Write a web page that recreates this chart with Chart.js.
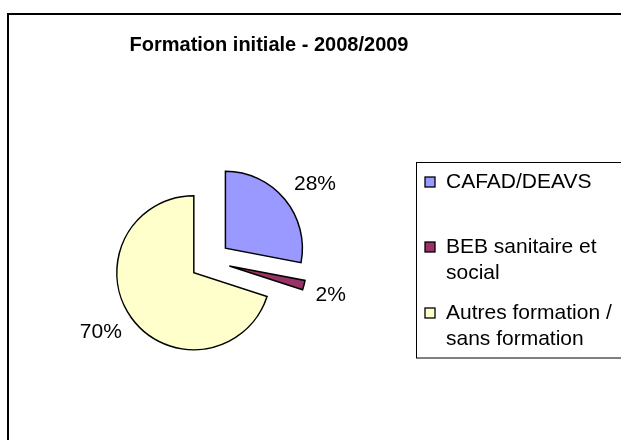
<!DOCTYPE html>
<html>
<head>
<meta charset="utf-8">
<title>Formation initiale - 2008/2009</title>
<script src="https://cdn.jsdelivr.net/npm/chart.js"></script>
<style>
  html, body { margin: 0; padding: 0; background: #fff; overflow: hidden; }
  #chart { display: block; }
</style>
</head>
<body>
<canvas id="chart" width="621" height="440"></canvas>
<script>
// data
const chartTitle = 'Formation initiale - 2008/2009';
const categories = ['CAFAD/DEAVS', 'BEB sanitaire et social', 'Autres formation / sans formation'];
const legendLines = [['CAFAD/DEAVS'], ['BEB sanitaire et', 'social'], ['Autres formation /', 'sans formation']];
const values = [28, 2, 70];
const colors = ['#9999FF', '#993366', '#FFFFCC'];

// layout
const FONT = '"Liberation Sans", Arial, sans-serif';
const EXPLODE = 20;
const LABEL_GAP = 12;
const LEGEND = { x: 416.5, y: 162.5, w: 300, h: 195.5, markX: 425, markSize: 10, textX: 446, lineH: 26, itemY: [182, 247, 313] };

const decor = {
  id: 'decor',
  beforeDraw(chart) {
    const ctx = chart.ctx;
    ctx.save();
    ctx.fillStyle = '#fff';
    ctx.fillRect(0, 0, chart.width, chart.height);
    ctx.strokeStyle = '#000';
    ctx.lineWidth = 2;
    ctx.strokeRect(8, 14, 700, 500);
    ctx.restore();
  },
  // draw slices pulled out from the centre
  beforeDatasetDraw(chart, args) {
    const ctx = chart.ctx;
    args.meta.data.forEach(arc => {
      const mid = (arc.startAngle + arc.endAngle) / 2;
      ctx.save();
      ctx.translate(Math.cos(mid) * EXPLODE, Math.sin(mid) * EXPLODE);
      arc.draw(ctx, chart.chartArea);
      ctx.restore();
    });
    return false;
  },
  afterDraw(chart) {
    const ctx = chart.ctx;
    ctx.save();
    ctx.fillStyle = '#000';

    // title
    ctx.font = 'bold 20px ' + FONT;
    ctx.textAlign = 'center';
    ctx.textBaseline = 'middle';
    ctx.fillText(chartTitle, 269, 45);

    // percentage labels
    const total = values.reduce((a, b) => a + b, 0);
    ctx.font = '21px ' + FONT;
    chart.getDatasetMeta(0).data.forEach((arc, i) => {
      const mid = (arc.startAngle + arc.endAngle) / 2;
      const dx = Math.cos(mid), dy = Math.sin(mid);
      const r = arc.outerRadius + EXPLODE + LABEL_GAP;
      const txt = Math.round(values[i] / total * 100) + '%';
      const w = ctx.measureText(txt).width;
      const px = arc.x + dx * r + Math.sign(dx) * w / 2;
      const py = arc.y + dy * r + Math.sign(dy) * 7;
      ctx.fillText(txt, px, py);
    });

    // legend
    ctx.strokeStyle = '#000';
    ctx.lineWidth = 1;
    ctx.strokeRect(LEGEND.x, LEGEND.y, LEGEND.w, LEGEND.h);
    ctx.textAlign = 'left';
    legendLines.forEach((lines, i) => {
      const y0 = LEGEND.itemY[i];
      const s = LEGEND.markSize;
      ctx.fillStyle = colors[i];
      ctx.fillRect(LEGEND.markX, y0 - s / 2, s, s);
      ctx.lineWidth = 1.3;
      ctx.strokeRect(LEGEND.markX, y0 - s / 2, s, s);
      ctx.fillStyle = '#000';
      lines.forEach((line, j) => {
        ctx.fillText(line, LEGEND.textX, y0 + j * LEGEND.lineH);
      });
    });
    ctx.restore();
  }
};

new Chart(document.getElementById('chart'), {
  type: 'pie',
  data: {
    labels: categories,
    datasets: [{
      data: values,
      backgroundColor: colors,
      borderColor: '#000',
      borderWidth: 1.5,
      borderJoinStyle: 'miter',
      radius: 77
    }]
  },
  options: {
    responsive: false,
    animation: false,
    layout: { padding: { left: 100, right: 301, top: 150, bottom: 68 } },
    plugins: {
      legend: { display: false },
      title: { display: false },
      tooltip: { enabled: false }
    }
  },
  plugins: [decor]
});
</script>
</body>
</html>
